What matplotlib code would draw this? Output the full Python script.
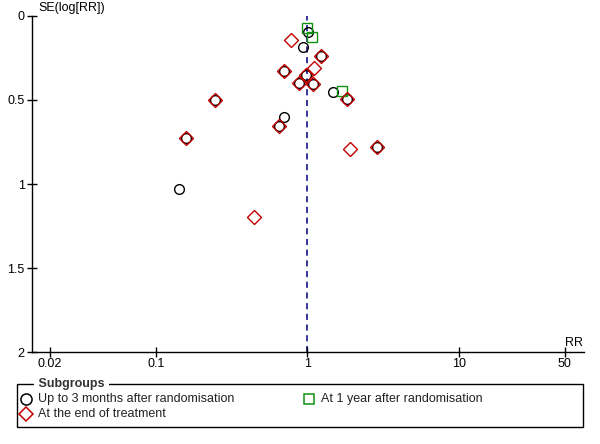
import matplotlib
matplotlib.use("Agg")
import matplotlib.pyplot as plt
from matplotlib.patches import Rectangle
from matplotlib.lines import Line2D

plt.rcParams['font.family'] = ['Liberation Sans', 'DejaVu Sans']

# Up to 3 months after randomisation (circles)
rr_3m = [1.01, 0.94, 1.485, 0.705, 0.141,
         1.22, 0.705, 0.98, 0.885, 1.08, 1.81, 0.245, 0.158, 0.646, 2.87]
se_3m = [0.097, 0.186, 0.454, 0.600, 1.030,
         0.236, 0.327, 0.351, 0.400, 0.403, 0.496, 0.502, 0.728, 0.655, 0.782]

# At 1 year after randomisation (squares)
rr_1y = [1.00, 1.07, 1.68]
se_1y = [0.073, 0.125, 0.448]

# At the end of treatment (diamonds)
rr_end = [0.776, 1.10, 1.91, 0.443,
          1.22, 0.705, 0.98, 0.885, 1.08, 1.81, 0.245, 0.158, 0.646, 2.87]
se_end = [0.141, 0.308, 0.794, 1.195,
          0.236, 0.327, 0.351, 0.400, 0.403, 0.496, 0.502, 0.728, 0.655, 0.782]

xticks = [0.02, 0.1, 1, 10, 50]
xtick_labels = ["0.02", "0.1", "1", "10", "50"]
yticks = [0, 0.5, 1, 1.5, 2]
ytick_labels = ["0", "0.5", "1", "1.5", "2"]
legend_labels = ["Up to 3 months after randomisation",
                 "At 1 year after randomisation",
                 "At the end of treatment"]

W, H = 600, 444
fig = plt.figure(figsize=(W / 100, H / 100), dpi=100)
ax = fig.add_axes([32.3 / W, (H - 352) / H, (584 - 32.3) / W, (352 - 16) / H])

col_c = "black"
col_s = "#109010"
col_d = "#c00000"
fs = 9

ax.axvline(1, color="#000080", lw=1.1, ls=(0, (4, 3)), zorder=1)
ax.plot(rr_3m, se_3m, ls="none", marker="o", ms=7.0, mfc="none", mec=col_c, mew=1.0, zorder=3)
ax.plot(rr_1y, se_1y, ls="none", marker="s", ms=6.5, mfc="none", mec=col_s, mew=1.0, zorder=4)
ax.plot(rr_end, se_end, ls="none", marker="D", ms=6.8, mfc="none", mec=col_d, mew=1.0, zorder=5)

ax.set_xscale("log")
ax.set_xlim(10 ** -1.816, 10 ** 1.825)
ax.set_ylim(2, 0)
ax.set_xticks(xticks)
ax.set_xticklabels(xtick_labels)
ax.minorticks_off()
ax.set_yticks(yticks)
ax.set_yticklabels(ytick_labels)
for s in ["top", "right"]:
    ax.spines[s].set_visible(False)
for s in ["left", "bottom"]:
    ax.spines[s].set_linewidth(1.0)
ax.tick_params(axis="x", direction="inout", length=7, width=1, labelsize=fs, pad=1)
ax.tick_params(axis="y", direction="inout", length=7, width=1, labelsize=fs, pad=2)

fig.text(38 / W, 1 - 8 / H, "SE(log[RR])", fontsize=fs, ha="left", va="center")
fig.text(583 / W, 1 - 343 / H, "RR", fontsize=fs, ha="right", va="center")

# Legend box
lx0, lx1, ly0, ly1 = 16.7, 583, 384, 427
fig.patches.append(Rectangle((lx0 / W, 1 - ly1 / H), (lx1 - lx0) / W, (ly1 - ly0) / H,
                             transform=fig.transFigure, fill=False, ec="black", lw=1.0))
fig.text(35 / W, 1 - ly0 / H, " Subgroups ", fontsize=fs, fontweight="bold",
         ha="left", va="center", color="#333333",
         bbox=dict(fc="white", ec="none", pad=0.5))
entries = [(26, 399, "o", col_c, legend_labels[0], 8),
           (309, 399, "s", col_s, legend_labels[1], 7.5),
           (26, 414, "D", col_d, legend_labels[2], 7.5)]
for x, y, m, c, lab, ms in entries:
    fig.add_artist(Line2D([x / W], [1 - y / H], marker=m, ms=ms,
                          mfc="none", mec=c, mew=1.1, ls="none",
                          transform=fig.transFigure))
    fig.text((x + 12) / W, 1 - y / H, lab, fontsize=fs, ha="left", va="center", color="#222222")

fig.savefig("out.png", dpi=100)
